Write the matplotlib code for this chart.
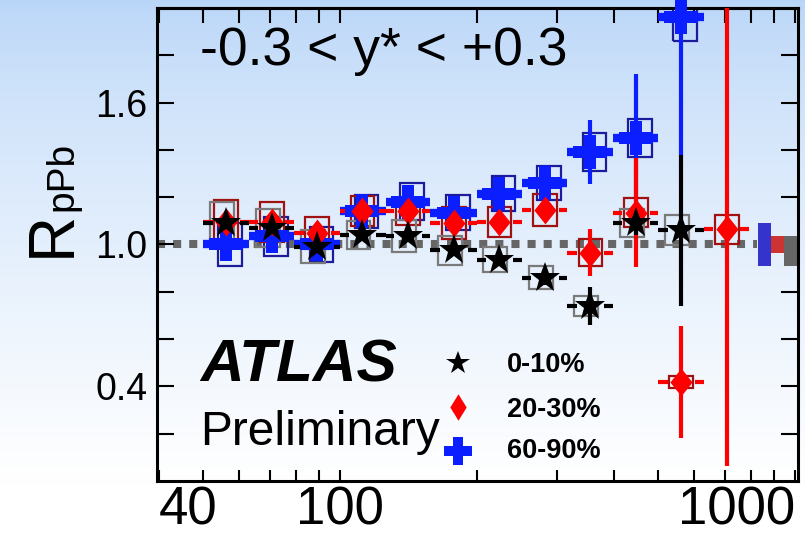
import numpy as np
import matplotlib.pyplot as plt
from matplotlib.patches import Rectangle
from matplotlib.path import Path
from matplotlib.ticker import NullFormatter
import matplotlib.transforms as mtransforms

plt.rcParams['font.family'] = ['Liberation Sans', 'DejaVu Sans']

# jet pT bins [GeV]
pt = [56.2, 70.8, 89.1, 112, 141, 178, 224, 282, 355, 447, 562, 708]
pt_lo = [50.1, 63.1, 79.4, 100, 126, 158, 200, 251, 316, 398, 501, 631]
pt_hi = [63.1, 79.4, 100, 126, 158, 200, 251, 316, 398, 501, 631, 794]

# 0-10% centrality
r_010 = [1.09, 1.07, 0.99, 1.04, 1.035, 0.975, 0.935, 0.86, 0.74, 1.09, 1.06]
stat_010 = [0.02, 0.02, 0.02, 0.02, 0.02, 0.02, 0.025, 0.03, 0.08, 0.05, 0.32]
sys_010 = [0.09, 0.08, 0.07, 0.06, 0.068, 0.063, 0.053, 0.05, 0.042, 0.06, 0.063]

# 20-30% centrality
r_2030 = [1.095, 1.095, 1.05, 1.14, 1.14, 1.09, 1.095, 1.145, 0.965, 1.135, 0.42, 1.065]
stat_2030 = [0.02, 0.02, 0.02, 0.02, 0.025, 0.03, 0.035, 0.04, 0.10, 0.23, 0.237, 1.0]
sys_2030 = [0.093, 0.085, 0.068, 0.063, 0.057, 0.068, 0.065, 0.068, 0.057, 0.063, 0.025, 0.061]

# 60-90% centrality
r_6090 = [1.0, 1.035, 1.0, 1.14, 1.18, 1.135, 1.215, 1.26, 1.39, 1.45, 1.96]
stat_6090 = [0.02, 0.02, 0.02, 0.025, 0.03, 0.035, 0.045, 0.075, 0.135, 0.27, 0.58]
sys_6090 = [0.09, 0.082, 0.072, 0.07, 0.078, 0.074, 0.074, 0.07, 0.08, 0.082, 0.1]

# normalisation uncertainties (lo, hi) around unity
norm_6090 = (0.09, 0.09)
norm_2030 = (0.038, 0.038)
norm_010 = (0.093, 0.038)

labels = ['0-10%', '20-30%', '60-90%']
xticks = [40, 100, 1000]
xticklabels = ['40', '100', '1000']
yticks = [0.2, 0.4, 0.6, 0.8, 1.0, 1.2, 1.4, 1.6, 1.8]
yticklabels = ['', '0.4', '', '', '1.0', '', '', '1.6', '']

XMIN, XMAX = 39.6, 1015
REF_END = 825
BOX_HW = 0.026

diamond = Path([(0, 1), (0.8, 0), (0, -1), (-0.8, 0), (0, 1)], closed=True)
diamond_leg = Path([(0, 1), (0.62, 0), (0, -1), (-0.62, 0), (0, 1)], closed=True)

fig = plt.figure(figsize=(8.05, 5.39), dpi=100)

# soft blue background gradient
bg = fig.add_axes([0, 0, 1, 1], zorder=-10)
top = np.array([184, 213, 248]) / 255.0
t = np.linspace(0, 1, 539)
f = np.clip(t / 0.9, 0, 1) ** 0.7
grad = top[None, :] + (1 - top[None, :]) * f[:, None]
bg.imshow(grad[:, None, :], aspect='auto', extent=[0, 1, 0, 1])
bg.axis('off')

ax = fig.add_axes([0.19503, 0.10761, 0.79627, 0.87755])
ax.patch.set_alpha(0)
ax.set_xscale('log')
ax.set_xlim(XMIN, XMAX)
ax.set_ylim(0, 2.0)


def draw_series(y, stat, sys, color, box_color, shift, marker, ms, zb, hlw=3.0, gap=0.03):
    n = len(y)
    x = np.array(pt[:n])
    lo = np.array(pt_lo[:n])
    hi = np.array(pt_hi[:n])
    y = np.array(y)
    stat = np.array(stat)
    for xi, yi, si in zip(x, y, sys):
        x0 = xi * 10 ** (shift - BOX_HW)
        x1 = xi * 10 ** (shift + BOX_HW)
        ax.add_patch(Rectangle((x0, yi - si), x1 - x0, 2 * si, fill=False,
                               ec=box_color, lw=1.6, zorder=2))
    ax.vlines(x, y - stat, y + stat, color=color, lw=3.0, zorder=zb)
    if gap > 0:
        ax.hlines(y, lo, x * 10 ** -gap, color=color, lw=hlw, zorder=zb)
        ax.hlines(y, x * 10 ** gap, hi, color=color, lw=hlw, zorder=zb)
    else:
        ax.hlines(y, lo, hi, color=color, lw=hlw, zorder=zb)
    ax.plot(x, y, ls='none', marker=marker, ms=ms, color=color, mew=0,
            zorder=zb + 3, clip_on=False)


ax.plot([XMIN, REF_END], [1, 1], color='#666666', lw=5.8, ls=(0, (1, 1)),
        dash_capstyle='butt', zorder=1, clip_on=False)

draw_series(r_6090, stat_6090, sys_6090, '#0a1eff', '#1c1c9a', 0.009, 'P', 25, 3.0,
            hlw=6.0, gap=0)
draw_series(r_2030, stat_2030, sys_2030, '#ff0000', '#a01212', 0.0, diamond, 20, 3.1)
draw_series(r_010, stat_010, sys_010, '#000000', '#7a7a7a', -0.009, '*', 22.5, 3.2)

# normalisation boxes at the right edge
trans = mtransforms.blended_transform_factory(ax.transAxes, ax.transData)
for (x0, x1), (nlo, nhi), c in zip([(0.9376, 0.9579), (0.9579, 0.978), (0.978, 1.0)],
                                   [norm_6090, norm_2030, norm_010],
                                   ['#3434cc', '#cc3434', '#666666']):
    ax.add_patch(Rectangle((x0, 1 - nlo), x1 - x0, nlo + nhi, transform=trans,
                           fc=c, ec='none', zorder=2.5))

# legend
leg_y = [0.2495, 0.1564, 0.0634]
txt_y = [0.2304, 0.1353, 0.0486]
ax.plot([0.4696], [leg_y[0]], marker='*', ms=17.5, color='k', mew=0, transform=ax.transAxes)
ax.plot([0.4696], [leg_y[1]], marker=diamond_leg, ms=19, color='#ff0000', mew=0,
        transform=ax.transAxes)
ax.plot([0.4696], [leg_y[2]], marker='P', ms=19.5, color='#0a1eff', mew=0,
        transform=ax.transAxes)
for lab, ty in zip(labels, txt_y):
    ax.text(0.546, ty, lab, transform=ax.transAxes, fontsize=19.5, fontweight='bold',
            va='baseline', ha='left')

ax.text(0.067, 0.879, '-0.3 < y* < +0.3', transform=ax.transAxes, fontsize=38.5,
        va='baseline', ha='left')
ax.text(0.068, 0.2093, 'ATLAS', transform=ax.transAxes, fontsize=43.5,
        fontweight='bold', fontstyle='italic', va='baseline', ha='left')
ax.text(0.068, 0.0761, 'Preliminary', transform=ax.transAxes, fontsize=34.5,
        va='baseline', ha='left')

fig.text(70 / 805, 1 - 257 / 539, 'R', fontsize=46, rotation=90, rotation_mode='anchor',
         ha='left', va='baseline')
fig.text(72 / 805, 1 - 211 / 539, 'pPb', fontsize=28, rotation=90, rotation_mode='anchor',
         ha='left', va='baseline')

# axes, ticks
ax.set_xticks(xticks)
ax.set_xticklabels(xticklabels)
ax.xaxis.set_minor_formatter(NullFormatter())
for lab, ha in zip(ax.get_xticklabels(), ['left', 'center', 'right']):
    lab.set_horizontalalignment(ha)
ax.set_yticks(yticks)
ax.set_yticklabels(yticklabels)
ax.tick_params(axis='x', which='both', direction='in', length=8, width=1.5,
               labelsize=38, pad=3, top=False)
ax.tick_params(axis='y', which='both', direction='in', length=12, width=1.5,
               left=True, right=True, labelsize=27, pad=7)
for s in ax.spines.values():
    s.set_linewidth(2.2)

sec = ax.secondary_xaxis('top')
sec.set_xticks(xticks)
sec.set_xticklabels(['', '', ''])
sec.xaxis.set_minor_formatter(NullFormatter())
sec.tick_params(which='both', direction='in', length=11, width=1.5, labeltop=False)
sec.spines['top'].set_linewidth(2.2)

fig.savefig('out.png', dpi=100)
